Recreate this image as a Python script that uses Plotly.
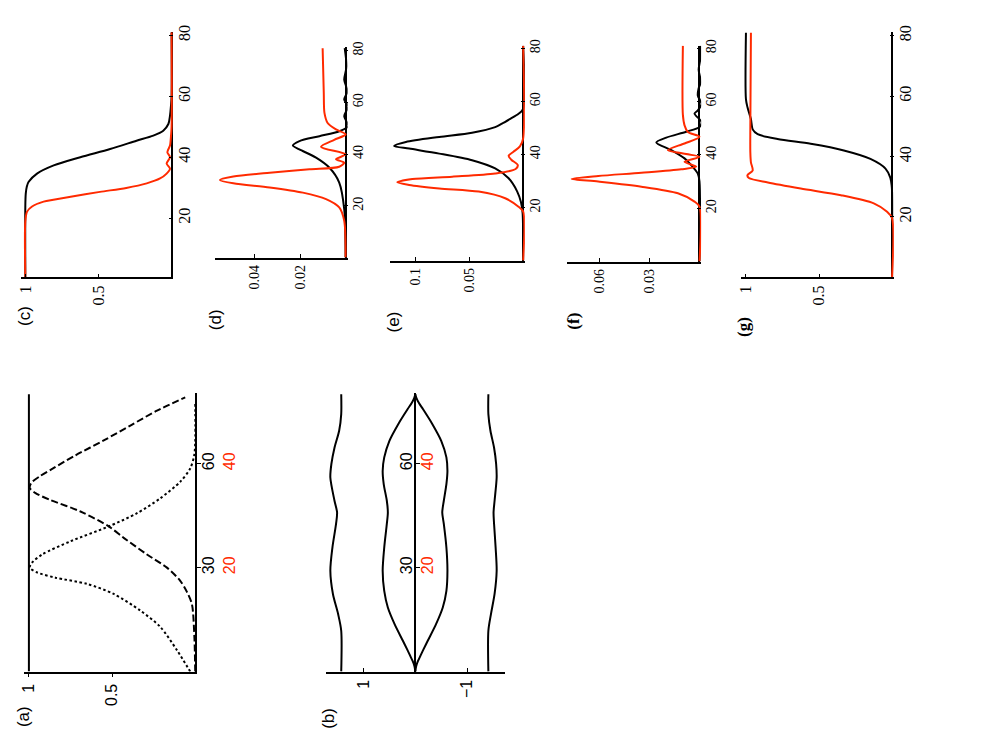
import plotly.graph_objects as go

W, H = 981, 736
RED = "#ff2a00"
BLACK = "#000000"

# ---------------- data (position along the guide, field value) ----------------
# (a)
A_SOLID_POS = [0, 80]
A_SOLID = [1, 1]
A_DOT_POS = [0, 6.2, 12.9, 17.6, 22.4, 25.3, 27.1, 28.6, 30, 31.5, 33.8, 37.6, 41.9, 45.7, 50, 54.8, 58.6, 62.4, 66, 78]
A_DOT = [0.03, 0.11, 0.21, 0.33, 0.49, 0.65, 0.84, 0.95, 0.995, 0.98, 0.92, 0.75, 0.52, 0.35, 0.21, 0.09, 0.03, 0.006, 0, 0]
A_DASH_POS = [0, 10, 19.5, 23, 26.2, 30, 33.8, 38.6, 41.9, 46.2, 49.5, 51.5, 53, 54.5, 56.5, 58.5, 62.4, 66.7, 71, 75.3, 79.1]
A_DASH = [0, 0.005, 0.02, 0.05, 0.09, 0.17, 0.29, 0.43, 0.52, 0.69, 0.87, 0.96, 0.995, 0.985, 0.93, 0.86, 0.72, 0.55, 0.39, 0.23, 0.06]

# (b)
B_TOP_POS = [0, 11.8, 16.6, 22.4, 29.1, 35.8, 42.6, 45.9, 49.3, 56, 59.9, 64.6, 69.5, 74.3, 80]
B_TOP = [1.43, 1.43, 1.49, 1.59, 1.64, 1.60, 1.53, 1.51, 1.56, 1.64, 1.62, 1.56, 1.47, 1.43, 1.43]
B_BOT_POS = [0, 11.8, 16.6, 22.4, 29.1, 35.8, 42.6, 45.9, 49.3, 56, 59.9, 64.6, 69.5, 74.3, 80]
B_BOT = [-1.41, -1.41, -1.46, -1.53, -1.57, -1.55, -1.52, -1.51, -1.53, -1.57, -1.56, -1.52, -1.45, -1.41, -1.41]
B_UP_POS = [0, 1.5, 3, 4.6, 6.5, 8.9, 13.7, 18.5, 23.3, 29.1, 35.8, 42.6, 45.9, 49.3, 54.1, 57.9, 61.8, 66.6, 71.4, 75.7, 77.5, 79, 80]
B_UP = [0, 0.015, 0.05, 0.1, 0.16, 0.24, 0.40, 0.53, 0.60, 0.63, 0.60, 0.55, 0.53, 0.55, 0.61, 0.63, 0.60, 0.50, 0.33, 0.15, 0.07, 0.02, 0]
B_LOW_POS = [0, 1.5, 3, 4.6, 6.5, 8.9, 13.7, 18.5, 23.3, 29.1, 35.8, 42.6, 45.9, 49.3, 54.1, 57.9, 61.8, 66.6, 71.4, 75.7, 77.5, 79, 80]
B_LOW = [0, -0.015, -0.05, -0.1, -0.16, -0.24, -0.40, -0.53, -0.60, -0.62, -0.60, -0.55, -0.52, -0.55, -0.60, -0.62, -0.60, -0.50, -0.33, -0.15, -0.07, -0.02, 0]

# (c)
C_BLACK_POS = [0.5, 24, 28, 30.3, 31.9, 34.6, 37.3, 40, 42.7, 45.4, 47.1, 48.7, 50.9, 53.6, 57, 60, 81]
C_BLACK = [1, 1, 0.997, 0.99, 0.977, 0.92, 0.806, 0.624, 0.42, 0.24, 0.125, 0.057, 0.022, 0.011, 0.004, 0, 0]
C_RED_POS = [0.5, 18.9, 22.1, 23.8, 25.4, 27, 28.6, 29.9, 31.4, 33, 34.6, 36.2, 37.9, 40, 41.6, 43.8, 47, 50, 81]
C_RED = [1, 1, 0.988, 0.954, 0.875, 0.69, 0.49, 0.31, 0.17, 0.079, 0.034, 0.011, 0.034, 0.011, 0.029, 0.011, 0.004, 0, 0]

# (d)
D_BLACK_POS = [0, 18.7, 29, 34.7, 38.6, 41.8, 43.3, 45, 46.9, 48.8, 50.8, 54.6, 58.5, 61, 64.2, 68.7, 73.8, 80.9]
D_BLACK = [0, 0.0006, 0.0028, 0.0071, 0.013, 0.0203, 0.0232, 0.0203, 0.0115, 0.0028, -0.0012, 0.0006, -0.0012, 0.0006, -0.0008, 0.0006, -0.0004, 0.0004]
D_RED_POS = [0, 14.2, 19.4, 22.6, 25.1, 27.1, 28.7, 30, 31.3, 32.8, 34.1, 35.1, 36.7, 38, 39.9, 42.8, 45.5, 47.6, 49.5, 52, 55.9, 63.6, 80.9]
D_RED = [0, 0.0006, 0.0028, 0.0086, 0.0188, 0.0334, 0.0494, 0.0553, 0.0494, 0.0334, 0.0159, 0.0028, 0.0006, 0.0042, 0, 0.0108, 0.005, 0, 0.0042, 0.0079, 0.0093, 0.0096, 0.0101]

# (e)
E_BLACK_POS = [0, 18, 22, 26, 31, 34.7, 37.8, 40.3, 42.2, 43.2, 44.7, 46.6, 48.2, 50.3, 51.6, 53.4, 55.3, 57.2, 81]
E_BLACK = [0, 0.0005, 0.002, 0.0055, 0.0135, 0.026, 0.0475, 0.078, 0.106, 0.12, 0.109, 0.078, 0.0475, 0.026, 0.0197, 0.012, 0.0043, 0, 0]
E_RED_POS = [0, 18.5, 20.3, 23.5, 26, 27.2, 28.5, 29.5, 30.7, 31.6, 32.8, 34.5, 36, 38, 39.5, 41, 43, 46, 81]
E_RED = [0, 0, 0.0043, 0.0167, 0.0413, 0.078, 0.106, 0.117, 0.103, 0.066, 0.026, 0.007, 0.005, 0.011, 0.0135, 0.009, 0.003, 0, 0]

# (f)
F_BLACK_POS = [0, 30, 33, 36.2, 38.7, 41.8, 44.7, 46.5, 48.7, 50.5, 52.4, 55.5, 56.7, 59.2, 62.3, 65, 67.3, 72, 76, 81]
F_BLACK = [0, 0, 0.001, 0.005, 0.009, 0.017, 0.026, 0.02, 0.008, 0, -0.0012, 0.003, 0.001, -0.0012, 0.001, 0.0005, -0.0008, 0.0005, -0.0005, -0.0006]
F_RED_POS = [0, 20.6, 22.5, 25.6, 28.1, 30, 31, 32.1, 33.3, 34.6, 35.6, 37.4, 39.3, 41.8, 44.3, 46.8, 48.6, 51.1, 55, 81]
F_RED = [0, 0, 0.003, 0.013, 0.035, 0.061, 0.077, 0.061, 0.035, 0.011, 0.002, 0.009, 0, 0.019, 0.009, 0, 0.007, 0.009, 0.01, 0.01]

# (g)
G_BLACK_POS = [0, 28.3, 30.5, 33, 36, 39.2, 42, 44.2, 45.8, 47.4, 49, 52.4, 56.2, 58.9, 81]
G_BLACK = [0, 0, 0.003, 0.012, 0.045, 0.148, 0.33, 0.557, 0.784, 0.92, 0.954, 0.966, 0.989, 1.0, 1.0]
G_RED_POS = [0, 19.6, 21.7, 24.5, 27.2, 29.4, 31.4, 32.9, 33.8, 35.4, 38.1, 41.4, 50, 81]
G_RED = [0, 0, 0.034, 0.125, 0.35, 0.625, 0.85, 0.98, 0.99, 0.954, 0.966, 0.97, 0.97, 0.966]

# ticks
POS_TICKS_AB = [30, 60]
POS_LABELS_AB = ["30", "60"]
POS_LABELS_AB_RED = ["20", "40"]
POS_TICKS = [20, 40, 60, 80]
VAL_TICKS_A = [1, 0.5]
VAL_TICKS_B = [1, -1]
VAL_LABELS_B = ["1", "\u22121"]
VAL_TICKS_CG = [1, 0.5]
VAL_TICKS_D = [0.04, 0.02]
VAL_TICKS_E = [0.1, 0.05]
VAL_TICKS_F = [0.06, 0.03]

SANS = "Liberation Sans"
SERIF = "Liberation Serif"

fig = go.Figure()


def ref(i):
    return ("x", "y") if i == 1 else (f"x{i}", f"y{i}")


def add_line(i, pos, val, color, dash=None, width=2):
    xr, yr = ref(i)
    fig.add_trace(go.Scatter(
        x=val, y=pos, mode="lines", xaxis=xr, yaxis=yr,
        line=dict(color=color, width=width, dash=dash, shape="spline", smoothing=0.8),
        hoverinfo="skip"))


# (a)
add_line(1, A_SOLID_POS, A_SOLID, BLACK)
add_line(1, A_DOT_POS, A_DOT, BLACK, dash="2.5px,2.5px")
add_line(1, A_DASH_POS, A_DASH, BLACK, dash="7px,3px")
# (b)
add_line(2, B_TOP_POS, B_TOP, BLACK)
add_line(2, B_UP_POS, B_UP, BLACK)
add_line(2, B_LOW_POS, B_LOW, BLACK)
add_line(2, B_BOT_POS, B_BOT, BLACK)
# (c)-(g)
for i, (bp, bv, rp, rv) in enumerate([
        (C_BLACK_POS, C_BLACK, C_RED_POS, C_RED),
        (D_BLACK_POS, D_BLACK, D_RED_POS, D_RED),
        (E_BLACK_POS, E_BLACK, E_RED_POS, E_RED),
        (F_BLACK_POS, F_BLACK, F_RED_POS, F_RED),
        (G_BLACK_POS, G_BLACK, G_RED_POS, G_RED)], start=3):
    add_line(i, bp, bv, BLACK)
    add_line(i, rp, rv, RED)

# panel boxes in pixels: x0, x1, y0(top), y1(bottom), xrange, yrange
boxes = {
    1: (20, 192, 390, 671, [1.03, 0], [0, 80.3]),
    2: (323, 503, 390, 671, [1.73, -1.73], [0, 80.3]),
    3: (17, 170, 25, 273, [1.03, -0.0117], [0.5, 81.2]),
    4: (212, 345, 40, 253, [0.0574, -0.00088], [0, 81.5]),
    5: (388, 523, 39, 256, [0.1234, -0.0016], [0, 81]),
    6: (565, 700, 39, 257, [0.08, -0.001], [0, 81]),
    7: (740, 893.5, 25, 273, [1.034, -0.0123], [0, 81.3]),
}
val_ticks = {1: VAL_TICKS_A, 2: VAL_TICKS_B, 3: VAL_TICKS_CG, 4: VAL_TICKS_D,
             5: VAL_TICKS_E, 6: VAL_TICKS_F, 7: VAL_TICKS_CG}

layout = {}
for i, (x0, x1, y0, y1, xr, yr) in boxes.items():
    xname = "xaxis" if i == 1 else f"xaxis{i}"
    yname = "yaxis" if i == 1 else f"yaxis{i}"
    xa, ya = ref(i)
    sans = i <= 2
    fnt = dict(family=SANS if sans else SERIF,
               size=16 if (sans or i in (3, 7)) else 14, color=BLACK)
    xt = val_ticks[i]
    xtext = VAL_LABELS_B if i == 2 else [f"{v:g}" for v in xt]
    layout[xname] = dict(
        domain=[x0 / W, x1 / W], range=xr, anchor=ya,
        showline=True, linecolor=BLACK, linewidth=1.5, showgrid=False,
        zeroline=(i >= 3), zerolinecolor=BLACK, zerolinewidth=1.5,
        ticks="outside" if i == 1 else "inside", ticklen=4, tickwidth=1.2, tickcolor=BLACK,
        tickmode="array", tickvals=xt, ticktext=xtext, tickangle=-90, tickfont=fnt)
    if sans:
        # black and red scale labels stacked beside each tick
        ttext = [f"{a}<br><span style='color:{RED}'>{b}</span>"
                 for a, b in zip(POS_LABELS_AB, POS_LABELS_AB_RED)]
        yax = dict(tickvals=POS_TICKS_AB, ticktext=ttext, ticks="outside", showline=True,
                   ticklabelstandoff=-6 if i == 1 else -27)
    else:
        yax = dict(tickvals=POS_TICKS, ticktext=[str(t) for t in POS_TICKS], ticks="inside", showline=False)
    yax.update(
        domain=[1 - y1 / H, 1 - y0 / H], range=yr, side="right",
        linecolor=BLACK, linewidth=1.5, showgrid=False, zeroline=False,
        ticklen=4, tickwidth=1.2, tickcolor=BLACK, tickmode="array",
        tickangle=-90, tickfont=fnt)
    if i == 2:
        yax.update(anchor="free", position=((x0 + x1) / 2) / W)
    else:
        yax.update(anchor=xa)
    layout[yname] = yax

labels = [("(a)", 19, 716, SANS, False), ("(b)", 326, 718, SANS, False),
          ("(c)", 20, 312, SANS, False), ("(d)", 213, 316, SANS, False),
          ("(e)", 392, 318, SANS, False), ("(f)", 572, 317, SERIF, True),
          ("(g)", 743, 323, SERIF, True)]
annotations = []
for txt, px, py, fam, bold in labels:
    annotations.append(dict(
        text=f"<b>{txt}</b>" if bold else txt, x=px / W, y=1 - py / H,
        xref="paper", yref="paper", showarrow=False, textangle=-90,
        xanchor="center", yanchor="middle",
        font=dict(family=fam, size=17, color=BLACK)))

fig.update_layout(
    width=W, height=H, margin=dict(l=0, r=0, t=0, b=0),
    paper_bgcolor="white", plot_bgcolor="white", showlegend=False,
    annotations=annotations, **layout)

fig.write_html("out.html", config={"displayModeBar": False},
               post_script="document.body.style.margin='0';")
